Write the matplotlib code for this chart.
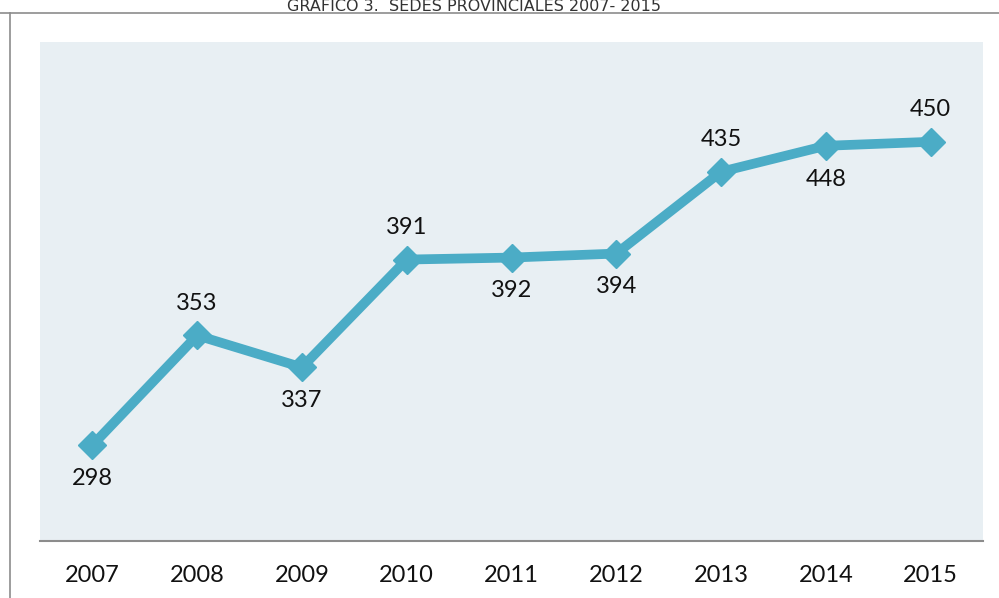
import matplotlib
matplotlib.use("Agg")
import matplotlib.pyplot as plt
from matplotlib.lines import Line2D

years = ["2007", "2008", "2009", "2010", "2011", "2012", "2013", "2014", "2015"]
sedes = [298, 353, 337, 391, 392, 394, 435, 448, 450]
# label placement: True = above the point, False = below
label_above = [False, True, False, True, False, False, True, False, True]

title = "GRÁFICO 3.  SEDES PROVINCIALES 2007- 2015"

LINE_COLOR = "#4BACC6"
BG_COLOR = "#E8EFF3"
W, H = 999, 598

plt.rcParams["font.family"] = ["Lato", "DejaVu Sans"]

fig = plt.figure(figsize=(W / 100, H / 100), dpi=100)
ax = fig.add_axes([40 / W, 1 - 541 / H, (983 - 40) / W, (541 - 42) / H])
ax.set_facecolor(BG_COLOR)

x = list(range(len(years)))
ax.plot(x, sedes, color=LINE_COLOR, linewidth=7, marker="D", markersize=14,
        solid_joinstyle="miter", zorder=3)

for xi, val, above in zip(x, sedes, label_above):
    off = 23 if above else -24
    ax.annotate(str(val), (xi, val), xytext=(0, off), textcoords="offset points",
                ha="center", va="center", fontsize=17, color="#111111")

ax.set_xlim(-0.5, len(years) - 0.5)
ax.set_ylim(250, 500)
ax.set_xticks(x)
ax.set_xticklabels(years, fontsize=17, color="#111111")
ax.set_yticks([])
ax.tick_params(axis="x", length=0, pad=17)
for side in ["top", "left", "right"]:
    ax.spines[side].set_visible(False)
ax.spines["bottom"].set_color("#8C8C8C")
ax.spines["bottom"].set_linewidth(1.5)

# frame lines of the original figure box
fig.add_artist(Line2D([0, 1], [1 - 13 / H, 1 - 13 / H], transform=fig.transFigure,
                      color="#8C8C8C", linewidth=1.2))
fig.add_artist(Line2D([10 / W, 10 / W], [0, 1 - 13 / H], transform=fig.transFigure,
                      color="#8C8C8C", linewidth=1.2))

fig.text(474 / W, 1 - 11 / H, title, ha="center", va="baseline", fontsize=11.5,
         color="#333333", family=["DejaVu Sans"])

fig.savefig("out.png", dpi=100, facecolor="white")
